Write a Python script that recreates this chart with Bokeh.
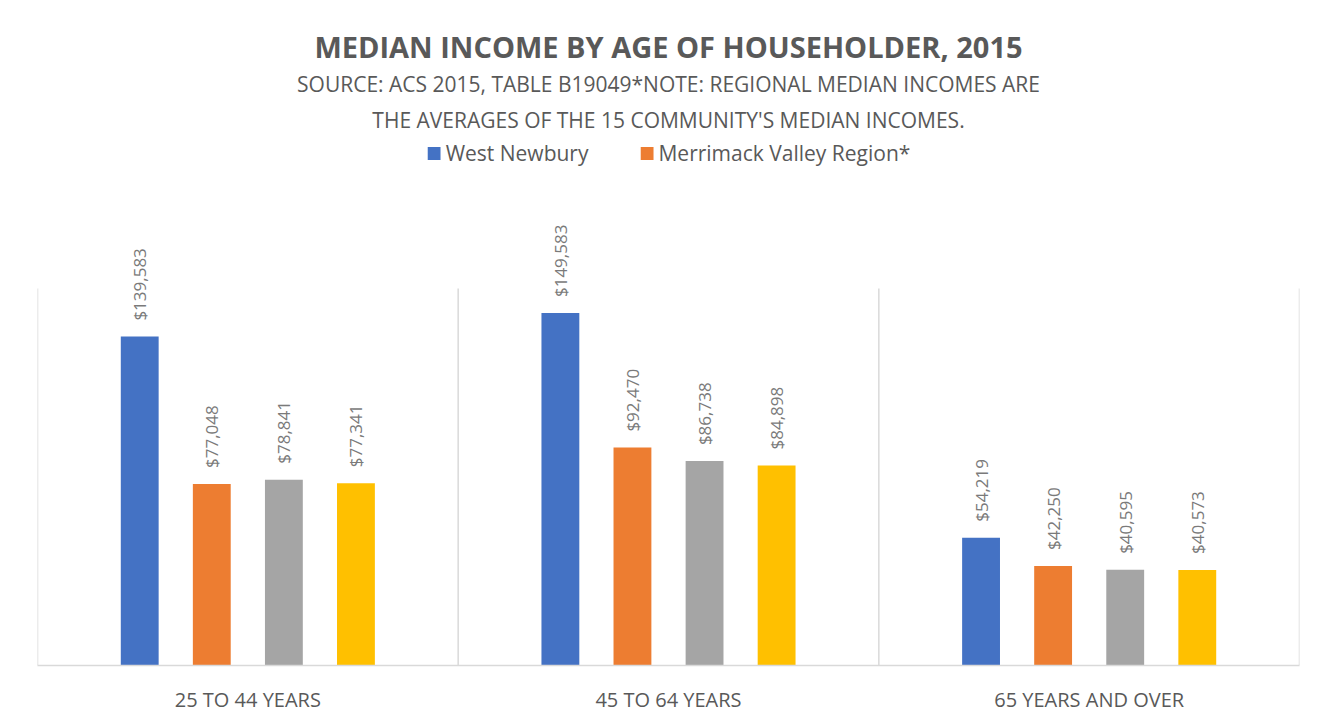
from math import pi
from bokeh.plotting import figure
from bokeh.models import (FactorRange, Range1d, ColumnDataSource, Legend,
                          LegendItem, Title)
from bokeh.transform import dodge
from bokeh.core.properties import value
from bokeh.embed import file_html
from bokeh.resources import INLINE

# ---------------- data ----------------
categories = ["25 TO 44 YEARS", "45 TO 64 YEARS", "65 YEARS AND OVER"]
west_newbury = [139583, 149583, 54219]
merrimack_valley = [77048, 92470, 42250]
series_3 = [78841, 86738, 40595]
series_4 = [77341, 84898, 40573]
series_names = ["West Newbury", "Merrimack Valley Region*", "Series 3", "Series 4"]
axis_max = 160000

title_text = "MEDIAN INCOME BY AGE OF HOUSEHOLDER, 2015"
subtitle_1 = "SOURCE: ACS 2015, TABLE B19049*NOTE: REGIONAL MEDIAN INCOMES ARE"
subtitle_2 = "THE AVERAGES OF THE 15 COMMUNITY'S MEDIAN INCOMES."

# ---------------- styles ----------------
colors = ["#4472C4", "#ED7D31", "#A5A5A5", "#FFC000"]
offsets = [-0.257, -0.0857, 0.0857, 0.257]
bar_width = 0.09
FONT = "Open Sans"
TXT = "#595959"

W, H = 1320, 718
b_left, b_right, b_top, b_bottom = 37, 21, 139, 53
frame_h = H - b_top - b_bottom
axis_h = 377  # pixel height of the 0..axis_max value span
y_end = axis_max * frame_h / axis_h

p = figure(x_range=FactorRange(factors=categories, range_padding=0),
           y_range=Range1d(0, y_end), width=W, height=H, title=None,
           output_backend="svg", toolbar_location=None,
           min_border_left=b_left, min_border_right=b_right,
           min_border_top=b_top, min_border_bottom=b_bottom)

# separators between categories
sep_src = ColumnDataSource(dict(x=categories))
p.segment(x0=dodge("x", -0.5, range=p.x_range), y0=0,
          x1=dodge("x", -0.5, range=p.x_range), y1=axis_max,
          source=sep_src, line_color="#d9d9d9", line_width=1.5)
last_src = ColumnDataSource(dict(x=categories[-1:]))
p.segment(x0=dodge("x", 0.5, range=p.x_range), y0=0,
          x1=dodge("x", 0.5, range=p.x_range), y1=axis_max,
          source=last_src, line_color="#d9d9d9", line_width=1.5)

all_series = [west_newbury, merrimack_valley, series_3, series_4]
bar_renderers = []
for vals, col, off in zip(all_series, colors, offsets):
    src = ColumnDataSource(dict(x=categories, y=vals,
                                label=[f"${v:,}" for v in vals]))
    r = p.vbar(x=dodge("x", off, range=p.x_range), top="y", width=bar_width,
               source=src, fill_color=col, line_color=None)
    bar_renderers.append(r)
    p.text(x=dodge("x", off, range=p.x_range), y="y", text="label",
           angle=pi / 2, text_align="left", text_baseline="middle",
           y_offset=-16, text_font=value(FONT), text_font_size="17px",
           text_color="#7a7a7a", source=src)

legend = Legend(items=[LegendItem(label=series_names[0], renderers=[bar_renderers[0]]),
                       LegendItem(label=series_names[1], renderers=[bar_renderers[1]])],
                location="top_center", orientation="horizontal",
                border_line_color=None, background_fill_alpha=0,
                glyph_width=16, glyph_height=16, label_standoff=4,
                spacing=50, padding=0, margin=0,
                label_text_font=FONT, label_text_font_size="21px",
                label_text_color=TXT)
p.add_layout(legend)

# titles (added nearest-first)
p.add_layout(Title(text=subtitle_2, align="center", text_font=FONT,
                   text_font_size="21px", text_font_style="normal",
                   text_color=TXT, standoff=12), "above")
p.add_layout(Title(text=subtitle_1, align="center", text_font=FONT,
                   text_font_size="21px", text_font_style="normal",
                   text_color=TXT, standoff=0), "above")
p.add_layout(Title(text=title_text, align="center", text_font=FONT,
                   text_font_size="29px", text_font_style="bold",
                   text_color=TXT, standoff=3), "above")

p.xaxis.axis_line_color = "#d9d9d9"
p.xaxis.axis_line_width = 1.5
p.xaxis.major_tick_line_color = None
p.xaxis.minor_tick_line_color = None
p.xaxis.major_label_text_font = FONT
p.xaxis.major_label_text_font_size = "20px"
p.xaxis.major_label_text_color = TXT
p.xaxis.major_label_standoff = 14
p.yaxis.visible = False
p.xgrid.visible = False
p.ygrid.visible = False
p.outline_line_color = None

open("out.html", "w").write(file_html(p, INLINE))
